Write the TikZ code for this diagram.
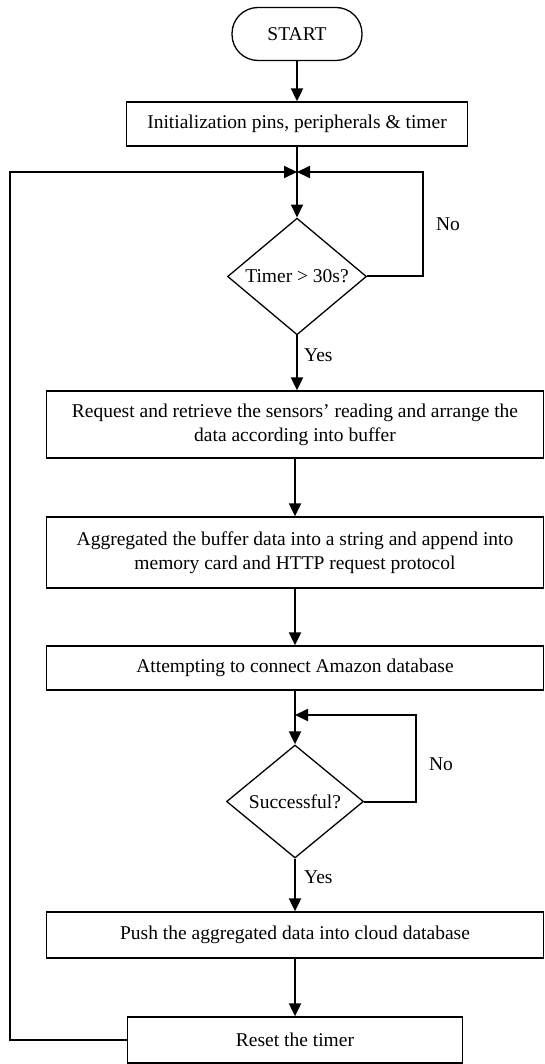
\documentclass[tikz,border=0pt]{standalone}
\usepackage{fontspec}
\setmainfont{Liberation Serif}
\usetikzlibrary{shapes.geometric,arrows.meta}
\begin{document}
\begin{tikzpicture}[x=1pt,y=-1pt,
  font=\fontsize{19.5}{24}\selectfont,
  box/.style={draw, rectangle, line width=1.3pt, inner sep=0pt, align=center},
  term/.style={draw, rectangle, line width=1.3pt, rounded corners=26pt,
    minimum width=130pt, minimum height=53pt, inner sep=0pt},
  decision/.style={draw, diamond, line width=1.3pt, inner sep=0pt,
    minimum width=139pt, minimum height=113pt},
  flow/.style={line width=2pt, -{Triangle[width=12pt,length=13pt]}},
  lbl/.style={inner sep=0pt, anchor=west}]
\useasboundingbox (0,0) rectangle (544,1064);

% start and initialisation
\node[term] (start) at (297,34) {START};
\node[box, minimum width=341pt, minimum height=44pt] (init) at (297,124)
  {Initialization pins, peripherals \& timer};
\coordinate (j1) at (297,172);

% timer check
\node[decision] (d1) at (297,276.5) {Timer > 30s?};
\coordinate (r1) at (423,172);
\coordinate (l1) at (10,172);

% data handling
\node[box, minimum width=497pt, minimum height=67pt] (req) at (295,424.5)
  {Request and retrieve the sensors’ reading and arrange the\\data according into buffer};
\node[box, minimum width=497pt, minimum height=71pt] (agg) at (295,552.5)
  {Aggregated the buffer data into a string and append into\\memory card and HTTP request protocol};
\node[box, minimum width=497pt, minimum height=44pt] (att) at (295,668)
  {Attempting to connect Amazon database};
\coordinate (j2) at (295,715);

% connection check
\node[decision, minimum width=137pt] (d2) at (295,801.5) {Successful?};
\coordinate (r2) at (416,715);

% upload and reset
\node[box, minimum width=497pt, minimum height=46pt] (push) at (295,935)
  {Push the aggregated data into cloud database};
\node[box, minimum width=335pt, minimum height=46pt] (reset) at (295,1040)
  {Reset the timer};

% connectors
\draw[flow] (start.south) -- (start.south |- init.north);
\draw[flow] (init.south) -- (d1.north);
\draw[flow] (d1.east) -| (r1) -- (j1);
\draw[flow] (reset.west) -| (l1) -- (j1);
\draw[flow] (d1.south) -- (d1.south |- req.north);
\draw[flow] (req.south) -- (req.south |- agg.north);
\draw[flow] (agg.south) -- (agg.south |- att.north);
\draw[flow] (att.south) -- (d2.north);
\draw[flow] (d2.east) -| (r2) -- (j2);
\draw[flow] (d2.south) -- (d2.south |- push.north);
\draw[flow] (push.south) -- (push.south |- reset.north);

% branch labels
\node (no1) at (448,224) {No};
\node[lbl] (yes1) at (304,355) {Yes};
\node (no2) at (441,764) {No};
\node[lbl] (yes2) at (304,877) {Yes};
\end{tikzpicture}
\end{document}
